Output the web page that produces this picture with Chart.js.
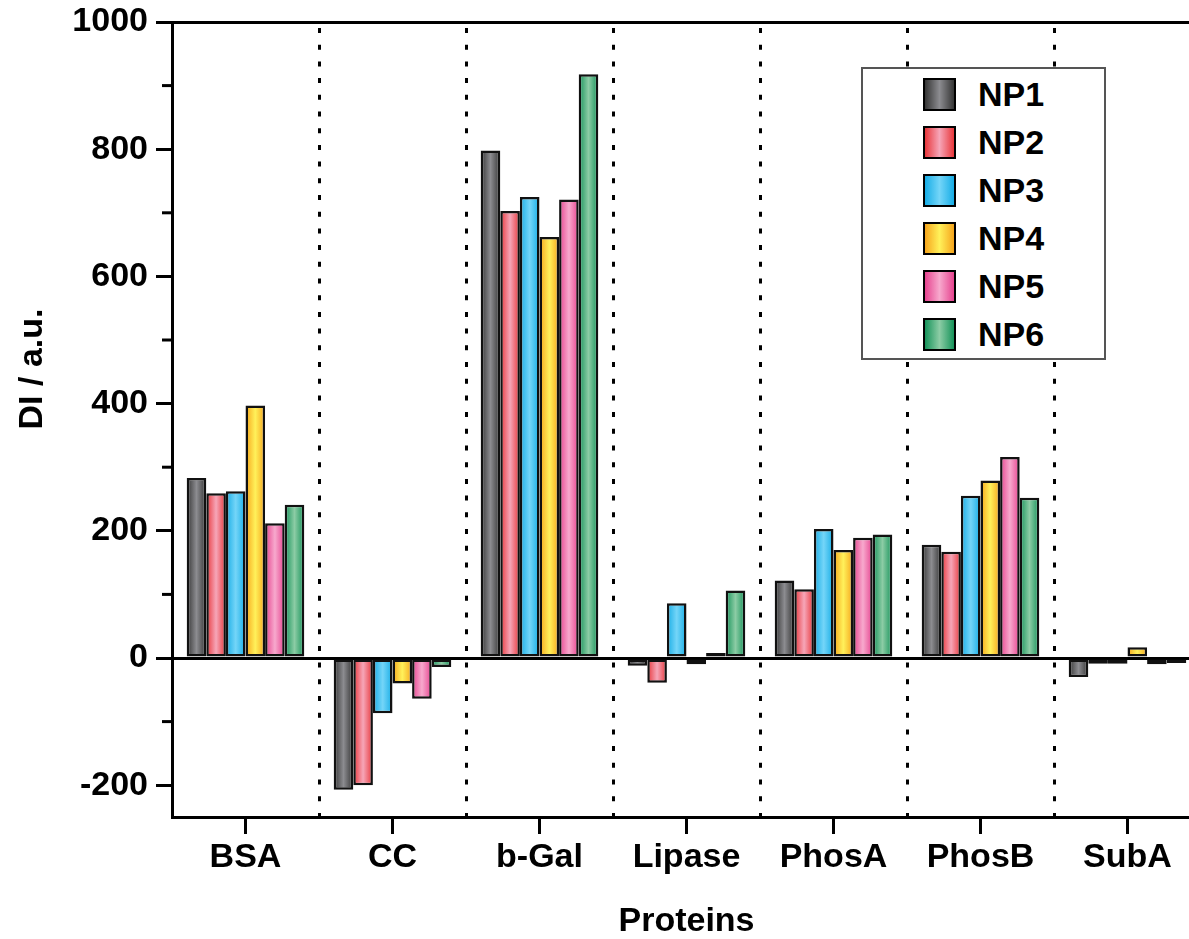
<!DOCTYPE html>
<html>
<head>
<meta charset="utf-8">
<script src="https://cdn.jsdelivr.net/npm/chart.js@4.4.1/dist/chart.umd.min.js"></script>
<style>
   html, body { margin: 0; padding: 0; background: #fff; overflow: hidden; }
   #wrap { position: relative; width: 1189px; height: 939px; overflow: hidden; }
   #legend {
      position: absolute; left: 861px; top: 67px; width: 241px; height: 289px;
      border: 2px solid #555; background: #fff;
   }
   .item { position: absolute; left: 60px; height: 33px; display: flex; align-items: center; }
   .swatch { width: 29px; height: 29px; border: 2px solid #000; margin-right: 22px; }
   .label { font: bold 34px "Liberation Sans", Arial, sans-serif; color: #000; }
</style>
</head>
<body>
<div id="wrap">
   <canvas id="chart" width="1204" height="939"></canvas>
   <div id="legend"></div>
</div>
<script>
const proteins = ['BSA', 'CC', 'b-Gal', 'Lipase', 'PhosA', 'PhosB', 'SubA']
const seriesNames = ['NP1', 'NP2', 'NP3', 'NP4', 'NP5', 'NP6']

const np1 = [283, -207, 798, -12, 122, 178, -30]
const np2 = [259, -200, 703, -39, 108, 167, -9]
const np3 = [262, -87, 725, 86, 203, 255, -9]
const np4 = [397, -40, 662, -10, 170, 279, 17]
const np5 = [212, -64, 721, 8, 189, 316, -10]
const np6 = [241, -14, 918, 106, 194, 252, -8]
const seriesValues = [np1, np2, np3, np4, np5, np6]

const yTicks = [-200, 0, 200, 400, 600, 800, 1000]

// edge colour / light centre colour for the shaded bars
const edgeColors = ['#353535', '#e8373b', '#17ade6', '#f6a51c', '#e6438f', '#16935a']
const lightColors = ['#8c8c90', '#f6a6b8', '#74d5f8', '#fff15a', '#f7a9cd', '#8ccca5']

const FONT = '"Liberation Sans", Arial, sans-serif'
const chartE = document.getElementById('chart')
const legendE = document.getElementById('legend')

// paint each bar with a horizontal "cylinder" gradient using its real position
const shadePlugin = {
   id: 'shade',
   beforeDatasetsDraw(chart) {
      const ctx = chart.ctx
      chart.data.datasets.forEach((ds, di) => {
         const meta = chart.getDatasetMeta(di)
         for (const el of meta.data) {
            const { x, width } = el.getProps(['x', 'width'], true)
            const g = ctx.createLinearGradient(x - width / 2, 0, x + width / 2, 0)
            g.addColorStop(0, edgeColors[di])
            g.addColorStop(0.5, lightColors[di])
            g.addColorStop(1, edgeColors[di])
            el.options.backgroundColor = g
         }
      })
   }
}

// dotted separators between proteins, minor y ticks, y title
const decorPlugin = {
   id: 'decor',
   beforeDatasetsDraw(chart) {
      const { ctx, chartArea, scales } = chart
      const xs = scales.x
      ctx.save()
      ctx.strokeStyle = '#000'
      ctx.lineWidth = 3
      ctx.setLineDash([5, 11.7])
      for (let i = 1; i < proteins.length; i++) {
         const px = Math.round((xs.getPixelForValue(i - 1) + xs.getPixelForValue(i)) / 2) + 0.5
         ctx.beginPath()
         ctx.moveTo(px, chartArea.top + 6)
         ctx.lineTo(px, chartArea.bottom)
         ctx.stroke()
      }
      ctx.restore()
   },
   afterDraw(chart) {
      const { ctx, chartArea, scales } = chart
      const ys = scales.y
      ctx.save()
      ctx.strokeStyle = '#000'
      ctx.lineWidth = 3
      for (const t of ys.ticks) {
         if (t.value % 200 === 0) continue
         const py = ys.getPixelForValue(t.value)
         ctx.beginPath()
         ctx.moveTo(chartArea.left - 10, py)
         ctx.lineTo(chartArea.left, py)
         ctx.stroke()
      }
      ctx.translate(33, 369)
      ctx.rotate(-Math.PI / 2)
      ctx.fillStyle = '#000'
      ctx.font = 'bold 34px ' + FONT
      ctx.textAlign = 'center'
      ctx.textBaseline = 'middle'
      ctx.fillText('DI / a.u.', 0, 0)
      ctx.restore()
   }
}

function renderLegend() {
   seriesNames.forEach((name, i) => {
      const item = document.createElement('div')
      item.className = 'item'
      item.style.top = (9 + i * 48) + 'px'
      const sw = document.createElement('div')
      sw.className = 'swatch'
      sw.style.background = `linear-gradient(to right, ${edgeColors[i]}, ${lightColors[i]}, ${edgeColors[i]})`
      const lb = document.createElement('span')
      lb.className = 'label'
      lb.textContent = name
      item.appendChild(sw)
      item.appendChild(lb)
      legendE.appendChild(item)
   })
}

new Chart(chartE, {
   type: 'bar',
   data: {
      labels: proteins,
      datasets: seriesValues.map((vals, i) => ({
         label: seriesNames[i],
         data: vals,
         backgroundColor: () => edgeColors[i],
         borderColor: '#111',
         borderWidth: 2.5,
         borderSkipped: false,
         categoryPercentage: 0.8,
         barPercentage: 1.0
      }))
   },
   options: {
      responsive: false,
      animation: false,
      devicePixelRatio: 1,
      layout: { padding: { top: 22, right: 3, bottom: 0, left: 0 } },
      plugins: { legend: { display: false }, tooltip: { enabled: false } },
      scales: {
         x: {
            grid: {
               offset: false,
               drawOnChartArea: false,
               tickLength: 17,
               tickWidth: 3,
               tickColor: '#000'
            },
            border: { color: '#000', width: 3 },
            ticks: {
               color: '#000',
               padding: 3,
               font: { family: FONT, size: 34, weight: 'bold' }
            },
            title: {
               display: true,
               text: 'Proteins',
               color: '#000',
               padding: { top: 0, bottom: 0 },
               font: { family: FONT, size: 34, weight: 'bold', lineHeight: 1 }
            },
            afterFit(scale) { scale.height = 122 }
         },
         y: {
            min: -250,
            max: 1000,
            ticks: {
               stepSize: 100,
               includeBounds: false,
               color: '#000',
               padding: 8,
               font: { family: FONT, size: 34, weight: 'bold', lineHeight: 0.8 },
               callback: (v) => yTicks.includes(v) ? String(v) : ''
            },
            afterBuildTicks(scale) {
               scale.ticks = scale.ticks.filter(t => t.value % 100 === 0)
            },
            grid: {
               tickLength: 16,
               lineWidth: 3,
               tickWidth: 3,
               color: (c) => (c.tick && (c.tick.value === 0 || c.tick.value === 1000)) ? '#000' : 'rgba(0,0,0,0)',
               tickColor: (c) => (c.tick && yTicks.includes(c.tick.value)) ? '#000' : 'rgba(0,0,0,0)'
            },
            border: { color: '#000', width: 3 },
            afterFit(scale) { scale.width = 172 }
         }
      }
   },
   plugins: [shadePlugin, decorPlugin]
})

renderLegend()
</script>
</body>
</html>
